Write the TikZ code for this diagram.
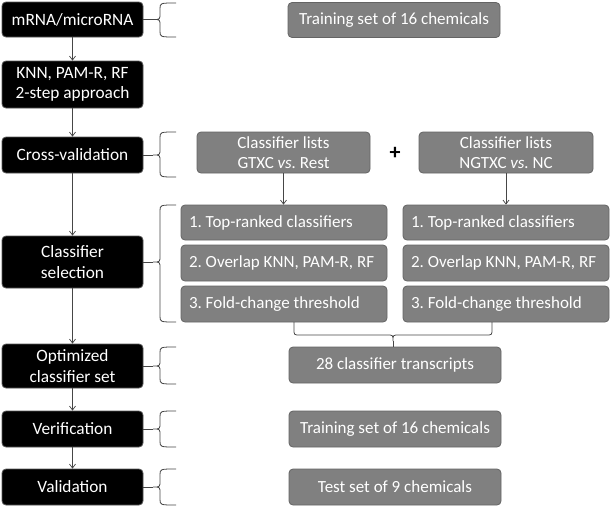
\documentclass[tikz,border=0pt]{standalone}
\usepackage{fontspec}
\setmainfont{Carlito}
\usetikzlibrary{arrows.meta}
\frenchspacing
\definecolor{boxgray}{RGB}{128,128,128}
\definecolor{boxedge}{RGB}{100,100,100}
\definecolor{lineg}{RGB}{70,70,70}
\tikzset{
  blk/.style={rectangle, rounded corners=4pt, fill=black, draw=black!65, line width=0.8pt,
    text=white, align=center, minimum width=141pt, font=\fontsize{17.3}{20.5}\selectfont, inner sep=0pt},
  gry/.style={rectangle, rounded corners=4pt, fill=boxgray, draw=boxedge, line width=0.8pt,
    text=white, align=center, font=\fontsize{17}{20}\selectfont, inner sep=0pt},
  item/.style={gry, inner xsep=8pt},
  arr/.style={draw=lineg, line width=0.7pt, -{Straight Barb[length=4pt,width=6pt]}},
  brc/.style={draw=lineg, line width=0.8pt},
}
\newcommand\itm[1]{\makebox[190pt][l]{#1}}
\newcommand\mybraceL[4]{%
  \draw[brc] (176,#2) .. controls (160,#2) .. (160,{#2+6}) -- (160,{#3-6}) .. controls (160,#3) .. (153,#3)
     .. controls (160,#3) .. (160,{#3+6}) -- (160,{#4-6}) .. controls (160,#4) .. (176,#4);
  \draw[brc] (153,#3) -- (#1.east |- 0,#3);}
\begin{document}
\begin{tikzpicture}[x=1pt,y=-1pt]
\useasboundingbox (0,0) rectangle (610,506);
% left column
\node[blk, minimum height=35pt] (m1) at (72.5,19.5) {mRNA/microRNA};
\node[blk, minimum height=47pt] (m2) at (72.5,84.5) {KNN, PAM-R, RF\\2-step approach};
\node[blk, minimum height=36pt] (m3) at (72.5,155) {Cross-validation};
\node[blk, minimum height=52pt] (m4) at (72.5,262) {Classifier\\selection};
\node[blk, minimum height=44pt] (m5) at (72.5,366) {Optimized\\classifier set};
\node[blk, minimum height=36pt] (m6) at (72.5,429) {Verification};
\node[blk, minimum height=36pt] (m7) at (72.5,487) {Validation};
\draw[arr] (m1) -- (m2);
\draw[arr] (m2) -- (m3);
\draw[arr] (m3) -- (m4);
\draw[arr] (m4) -- (m5);
\draw[arr] (m5) -- (m6);
\draw[arr] (m6) -- (m7);
% right column
\node[gry, minimum width=212pt, minimum height=35pt] (r1) at (394,20) {Training set of 16 chemicals};
\node[gry, minimum width=173pt, minimum height=41pt] (g1) at (283.5,152.5) {Classifier lists\\GTXC \textit{vs.} Rest};
\node[gry, minimum width=174pt, minimum height=41pt] (g2) at (506,152.5) {Classifier lists\\NGTXC \textit{vs.} NC};
\node[font=\fontsize{22}{22}\selectfont\bfseries] (plus) at (395,153) {+};
\node[item, minimum height=35pt] (a1) at (284,222.5) {\itm{1. Top-ranked classifiers}};
\node[item, minimum height=36pt] (a2) at (284,263) {\itm{2. Overlap KNN, PAM-R, RF}};
\node[item, minimum height=36pt] (a3) at (284,304) {\itm{3. Fold-change threshold}};
\node[item, minimum height=35pt] (b1) at (506,222.5) {\itm{1. Top-ranked classifiers}};
\node[item, minimum height=36pt] (b2) at (506,263) {\itm{2. Overlap KNN, PAM-R, RF}};
\node[item, minimum height=36pt] (b3) at (506,304) {\itm{3. Fold-change threshold}};
\node[gry, minimum width=212pt, minimum height=36pt] (t28) at (395,365) {28 classifier transcripts};
\node[gry, minimum width=212pt, minimum height=36pt] (tr2) at (395,429) {Training set of 16 chemicals};
\node[gry, minimum width=212pt, minimum height=36pt] (te) at (395,487) {Test set of 9 chemicals};
\draw[arr] (g1.south) -- (g1.south |- a1.north);
\draw[arr] (g2.south) -- (g2.south |- b1.north);
% braces
\mybraceL{m1}{3}{19.5}{37}
\mybraceL{m3}{132}{155}{177}
\mybraceL{m4}{205}{262}{322}
\mybraceL{m5}{347}{366}{384}
\mybraceL{m6}{411}{429}{447}
\mybraceL{m7}{469}{487}{505}
% bottom brace
\coordinate (bl) at (294,322);
\coordinate (br) at (492,322);
\draw[brc] (bl) -- (294,329) .. controls (294,335) .. (300,335) -- (387,335) .. controls (393,335) .. (393,341)
   .. controls (393,335) .. (399,335) -- (486,335) .. controls (492,335) .. (492,329) -- (br);
\draw[brc] (393,341) -- (393,347);
\end{tikzpicture}
\end{document}
